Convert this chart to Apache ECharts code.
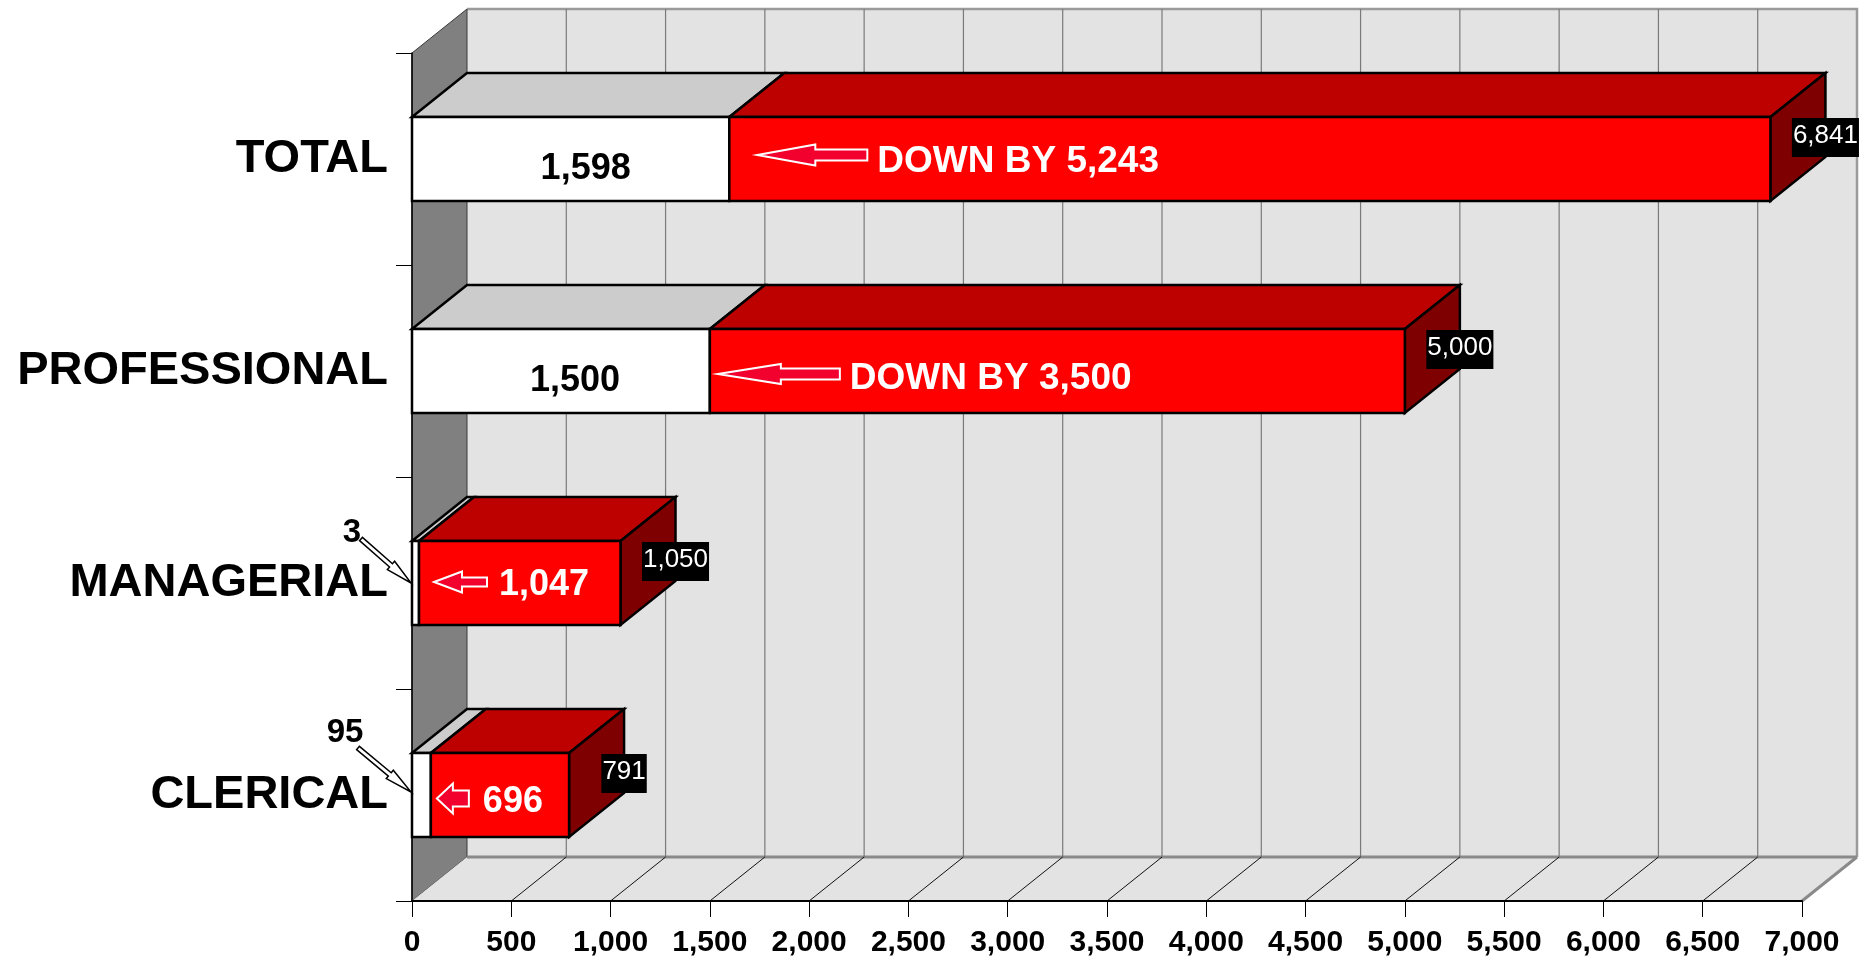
<!DOCTYPE html>
<html>
<head>
<meta charset="utf-8">
<script src="https://cdn.jsdelivr.net/npm/echarts@6/dist/echarts.min.js"></script>
<style>
html,body{margin:0;padding:0;background:#ffffff;}
#chart{width:1874px;height:960px;}
</style>
</head>
<body>
<div id="chart"></div>
<script>
// ---------------- data ----------------
const categories = ['TOTAL', 'PROFESSIONAL', 'MANAGERIAL', 'CLERICAL'];
const currentValues = [1598, 1500, 3, 95];
const previousValues = [6841, 5000, 1050, 791];
const decreaseValues = [5243, 3500, 1047, 696];
const decreasePrefixes = ['DOWN BY ', 'DOWN BY ', '', ''];
const xTickValues = [0, 500, 1000, 1500, 2000, 2500, 3000, 3500, 4000, 4500, 5000, 5500, 6000, 6500, 7000];

// ---------------- styles ----------------
const FONT = '"Liberation Sans", Arial, Helvetica, sans-serif';
const DEPTH = [55, -44];
const fmt = v => Number(v).toLocaleString('en-US');

// per-category annotation styling (offsets in px, sizes)
const annotationStyle = [
  { tipDx: 28, arrowLen: 110, headLen: 58, headH: 21, shaftH: 11, arrowDy: -4, textGap: 10, textDy: 3, textSize: 37,
    current: 'inside', curDx: 15, curDy: 10 },
  { tipDx: 8, arrowLen: 122, headLen: 63, headH: 20, shaftH: 11, arrowDy: 3, textGap: 10, textDy: 8, textSize: 37,
    current: 'inside', curDx: 14, curDy: 10 },
  { tipDx: 15, arrowLen: 53, headLen: 28, headH: 21, shaftH: 9, arrowDy: -1, textGap: 12, textDy: 2, textSize: 36,
    current: 'callout', calDx: -60, calDy: -50, cs: [-51, -44], ce: [-1, 0] },
  { tipDx: 6, arrowLen: 32, headLen: 16, headH: 30, shaftH: 16, arrowDy: 3.5, textGap: 14, textDy: 7, textSize: 36,
    current: 'callout', calDx: -67, calDy: -62, cs: [-54, -47], ce: [-1, -3] }
];

function poly(points, fill, stroke, lw) {
  return { type: 'polygon', shape: { points: points },
    style: { fill: fill, stroke: stroke || '#000', lineWidth: lw == null ? 2.5 : lw, lineJoin: 'miter' } };
}
function rect(x, y, w, h, fill) {
  return { type: 'rect', shape: { x: x, y: y, width: w, height: h },
    style: { fill: fill, stroke: '#000', lineWidth: 2.5, lineJoin: 'miter' } };
}

function renderWalls(params, api) {
  const cs = params.coordSys;
  const dx = DEPTH[0], dy = DEPTH[1];
  const L = cs.x, R = cs.x + cs.width, T = cs.y, B = cs.y + cs.height;
  return { type: 'group', children: [
    { type: 'rect', shape: { x: L + dx, y: T + dy, width: cs.width, height: cs.height }, style: { fill: '#e3e3e3' } },
    { type: 'polyline', shape: { points: [[L + dx, T + dy], [R + dx, T + dy], [R + dx, B + dy]] },
      style: { stroke: '#9a9a9a', lineWidth: 2.5, fill: null } },
    poly([[L, T], [L + dx, T + dy], [L + dx, B + dy], [L, B]], '#808080', '#3a3a3a', 1),
    { type: 'polygon', shape: { points: [[L, B], [R, B], [R + dx, B + dy], [L + dx, B + dy]] }, style: { fill: '#e3e3e3' } },
    { type: 'line', shape: { x1: L + dx, y1: B + dy, x2: R + dx, y2: B + dy }, style: { stroke: '#8a8a8a', lineWidth: 3 } },
    { type: 'line', shape: { x1: R, y1: B, x2: R + dx, y2: B + dy }, style: { stroke: '#8a8a8a', lineWidth: 3 } }
  ] };
}

function renderGridLines(params, api) {
  const cs = params.coordSys;
  const v = api.value(0);
  const dx = DEPTH[0], dy = DEPTH[1];
  if (v <= 0 || v >= 7000) return { type: 'group', children: [] };
  const x = api.coord([v, 0])[0];
  const T = cs.y, B = cs.y + cs.height;
  return { type: 'group', children: [
    { type: 'line', shape: { x1: x + dx, y1: T + dy, x2: x + dx, y2: B + dy }, style: { stroke: '#7a7a7a', lineWidth: 1.2 } },
    { type: 'line', shape: { x1: x + dx, y1: B + dy, x2: x, y2: B }, style: { stroke: '#111', lineWidth: 1 } }
  ] };
}

function leftArrow(tx, ay, st) {
  const hx = tx + st.headLen, ex = tx + st.arrowLen;
  const hh = st.headH / 2, sh = st.shaftH / 2;
  return { type: 'polygon', shape: { points: [[tx, ay], [hx, ay - hh], [hx, ay - sh], [ex, ay - sh], [ex, ay + sh], [hx, ay + sh], [hx, ay + hh]] },
    style: { fill: '#f2002e', stroke: '#ffffff', lineWidth: 2, lineJoin: 'miter' } };
}

function calloutArrow(s, e) {
  const vx = e[0] - s[0], vy = e[1] - s[1];
  const len = Math.sqrt(vx * vx + vy * vy);
  const ux = vx / len, uy = vy / len, nx = -uy, ny = ux;
  const t = 0.6;
  const hx = s[0] + vx * t, hy = s[1] + vy * t;
  const w1 = 2.2, w2 = 5.5;
  return { type: 'polygon', shape: { points: [
      [s[0] + nx * w1, s[1] + ny * w1], [hx + nx * w1, hy + ny * w1], [hx + nx * w2, hy + ny * w2], e,
      [hx - nx * w2, hy - ny * w2], [hx - nx * w1, hy - ny * w1], [s[0] - nx * w1, s[1] - ny * w1]] },
    style: { fill: '#ffffff', stroke: '#000', lineWidth: 1.5 } };
}

function renderBar(params, api) {
  const i = api.value(0);
  const cur = api.value(1), prev = api.value(2);
  const st = annotationStyle[i];
  const c0 = api.coord([0, i]);
  const cN = api.coord([cur, i]);
  const cP = api.coord([prev, i]);
  const h = api.size([0, 1])[1] * 0.396;
  const x0 = c0[0], yc = c0[1];
  const xN = Math.max(cN[0], x0 + 7);
  const xP = cP[0];
  const top = yc - h / 2, bot = yc + h / 2;
  const dx = DEPTH[0], dy = DEPTH[1];
  const ch = [
    poly([[x0, top], [xN, top], [xN + dx, top + dy], [x0 + dx, top + dy]], '#cccccc'),
    poly([[xN, top], [xP, top], [xP + dx, top + dy], [xN + dx, top + dy]], '#bd0000'),
    poly([[xP, top], [xP + dx, top + dy], [xP + dx, bot + dy], [xP, bot]], '#7f0000'),
    rect(x0, top, xN - x0, h, '#ffffff'),
    rect(xN, top, xP - xN, h, '#ff0000')
  ];
  // decrease arrow + text
  const tx = xN + st.tipDx;
  ch.push(leftArrow(tx, yc + st.arrowDy, st));
  ch.push({ type: 'text', style: { x: tx + st.arrowLen + st.textGap, y: yc + st.textDy,
    text: decreasePrefixes[i] + fmt(decreaseValues[i]), fill: '#ffffff', fontFamily: FONT, fontWeight: 'bold',
    fontSize: st.textSize, align: 'left', verticalAlign: 'middle' } });
  // current value label
  if (st.current === 'inside') {
    ch.push({ type: 'text', style: { x: (x0 + xN) / 2 + st.curDx, y: yc + st.curDy, text: fmt(cur), fill: '#000',
      fontFamily: FONT, fontWeight: 'bold', fontSize: 36, align: 'center', verticalAlign: 'middle' } });
  } else {
    ch.push(calloutArrow([x0 + st.cs[0], yc + st.cs[1]], [x0 + st.ce[0], yc + st.ce[1]]));
    ch.push({ type: 'text', style: { x: x0 + st.calDx, y: yc + st.calDy, text: fmt(cur), fill: '#000',
      fontFamily: FONT, fontWeight: 'bold', fontSize: 33, align: 'center', verticalAlign: 'middle' } });
  }
  // previous value label (black box)
  ch.push({ type: 'text', style: { x: xP + dx, y: top + 1, text: fmt(prev), fill: '#ffffff',
    fontFamily: FONT, fontSize: 26, lineHeight: 26, align: 'center', verticalAlign: 'top',
    backgroundColor: '#000000', padding: [5, 1, 8, 1] } });
  return { type: 'group', children: ch };
}

const chart = echarts.init(document.getElementById('chart'), null, { renderer: 'canvas' });
chart.setOption({
  animation: false,
  backgroundColor: '#ffffff',
  textStyle: { fontFamily: FONT },
  grid: { left: 412, right: 72, top: 53, bottom: 59, containLabel: false, outerBoundsMode: 'none' },
  xAxis: {
    type: 'value', min: 0, max: 7000, interval: 500, z: 10,
    axisLine: { show: true, lineStyle: { color: '#000', width: 2 } },
    axisTick: { show: true, length: 16, lineStyle: { color: '#000', width: 1 } },
    axisLabel: { fontSize: 30, fontWeight: 'bold', color: '#000', margin: 27, fontFamily: FONT, formatter: v => fmt(v) },
    splitLine: { show: false }
  },
  yAxis: {
    type: 'category', data: categories, inverse: true, z: 10,
    axisLine: { show: true, lineStyle: { color: '#000', width: 1.5 } },
    axisTick: { show: true, length: 16, lineStyle: { color: '#000', width: 1 } },
    axisLabel: { fontSize: 47, fontWeight: 'bold', color: '#000', margin: 24, fontFamily: FONT },
    splitLine: { show: false }
  },
  series: [
    { type: 'custom', name: 'walls', z: 1, silent: true, clip: false, data: [[0]], encode: { x: 0 }, renderItem: renderWalls },
    { type: 'custom', name: 'grid', z: 2, silent: true, clip: false, data: xTickValues.map(v => [v]), encode: { x: 0 }, renderItem: renderGridLines },
    { type: 'custom', name: 'bars', z: 3, clip: false,
      data: categories.map((c, i) => [i, currentValues[i], previousValues[i]]),
      encode: { y: 0, x: [1, 2] }, renderItem: renderBar }
  ]
});
</script>
</body>
</html>
